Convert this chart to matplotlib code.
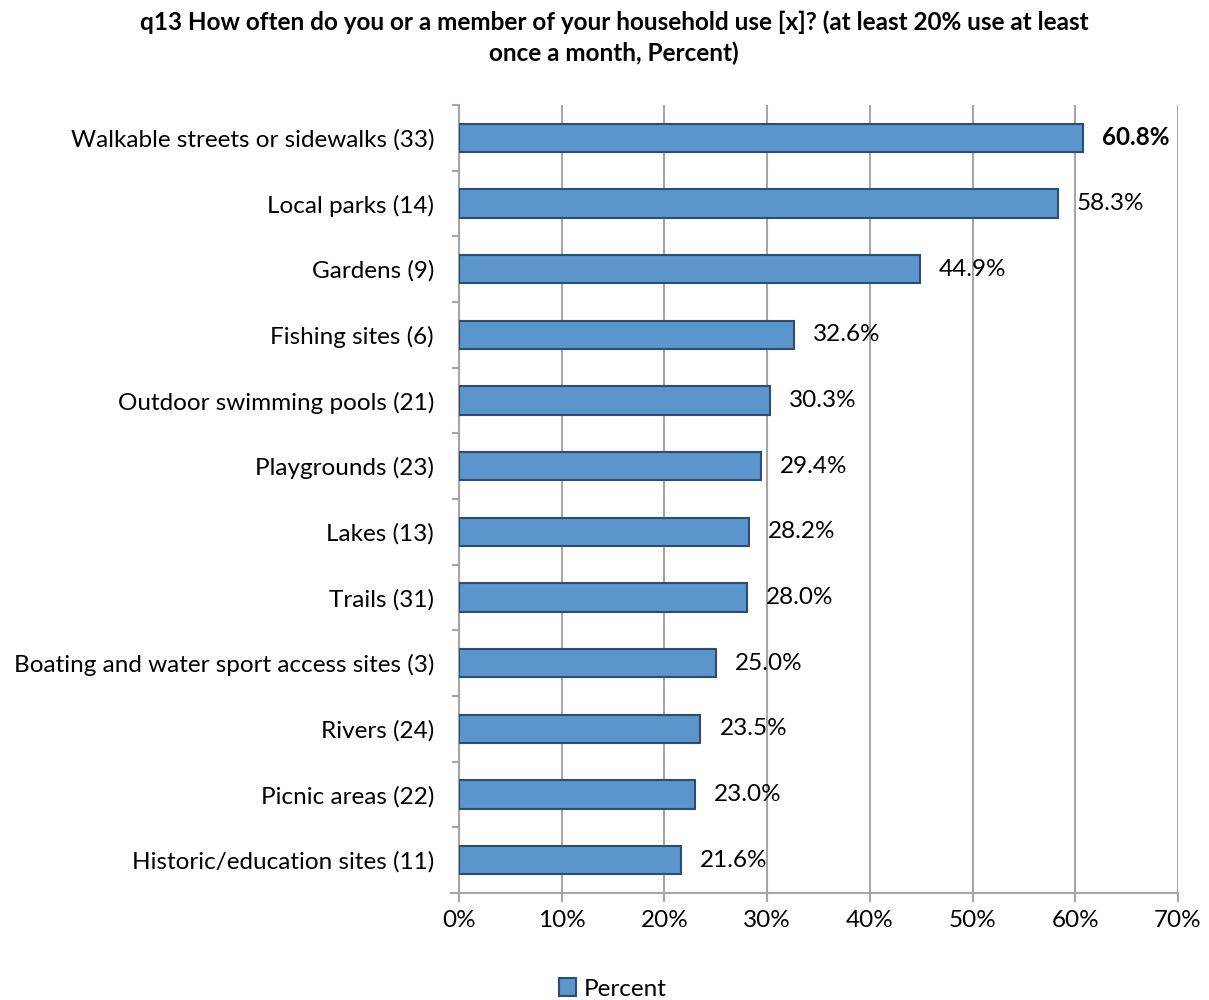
import numpy as np
import matplotlib
matplotlib.use("Agg")
import matplotlib.pyplot as plt
from matplotlib.patches import Patch

plt.rcParams['font.family'] = ['Lato', 'DejaVu Sans']

categories = ["Walkable streets or sidewalks (33)", "Local parks (14)", "Gardens (9)",
              "Fishing sites (6)", "Outdoor swimming pools (21)", "Playgrounds (23)",
              "Lakes (13)", "Trails (31)", "Boating and water sport access sites (3)",
              "Rivers (24)", "Picnic areas (22)", "Historic/education sites (11)"]
values = [60.8, 58.3, 44.9, 32.6, 30.3, 29.4, 28.2, 28.0, 25.0, 23.5, 23.0, 21.6]
xticks = [0, 10, 20, 30, 40, 50, 60, 70]

fill = "#5B95CB"
edge = "#2C4D75"
grid = "#A6A6A6"
fs = 17.5

fig = plt.figure(figsize=(12.09, 10), dpi=100)
ax = fig.add_axes([0.3797, 0.107, 0.5946, 0.788])

n = len(categories)
y = np.arange(n)[::-1]
ax.barh(y, values, height=0.43, color=fill, edgecolor=edge, linewidth=1.5, zorder=3)

# value labels, largest one in bold
for yi, v in zip(y, values):
    bold = v == max(values)
    ax.annotate(f"{v:.1f}%", (v, yi), xytext=(19, 0), textcoords="offset pixels",
                va="center", ha="left", fontsize=fs, fontweight="bold" if bold else "normal",
                color="black", zorder=4)

ax.set_xlim(0, 70)
ax.set_ylim(-0.5, n - 0.5)
ax.set_xticks(xticks)
ax.set_xticklabels([f"{t}%" for t in xticks], fontsize=fs)
ax.set_yticks(y)
ax.set_yticklabels(categories, fontsize=fs)
ax.tick_params(axis="y", length=0, pad=18)
ax.tick_params(axis="x", length=0, pad=12)

# boundary ticks on the y axis and x axis
for b in np.arange(-0.5, n, 1):
    ax.plot([-0.55, 0], [b, b], color=grid, lw=1.5, clip_on=False, zorder=2)
for t in xticks:
    ax.plot([t, t], [-0.5, -0.62], color=grid, lw=1.5, clip_on=False, zorder=2)

ax.xaxis.grid(True, color=grid, lw=1.5, zorder=0)
ax.set_axisbelow(True)
for s in ["top", "right"]:
    ax.spines[s].set_visible(False)
ax.spines["left"].set_color(grid)
ax.spines["left"].set_linewidth(1.5)
ax.spines["bottom"].set_color(grid)
ax.spines["bottom"].set_linewidth(1.5)
ax.spines["bottom"].set_bounds(-0.8, 70)

fig.text(0.508, 0.99, "q13 How often do you or a member of your household use [x]? (at least 20% use at least\nonce a month, Percent)",
         ha="center", va="top", fontsize=fs, fontweight="bold", linespacing=1.4)

fig.legend(handles=[Patch(facecolor=fill, edgecolor=edge, lw=1.5, label="Percent")],
           loc="center", bbox_to_anchor=(0.507, 0.011), frameon=False, fontsize=fs,
           handlelength=0.7, handleheight=0.7, handletextpad=0.3)

fig.savefig("out.png", dpi=100)
